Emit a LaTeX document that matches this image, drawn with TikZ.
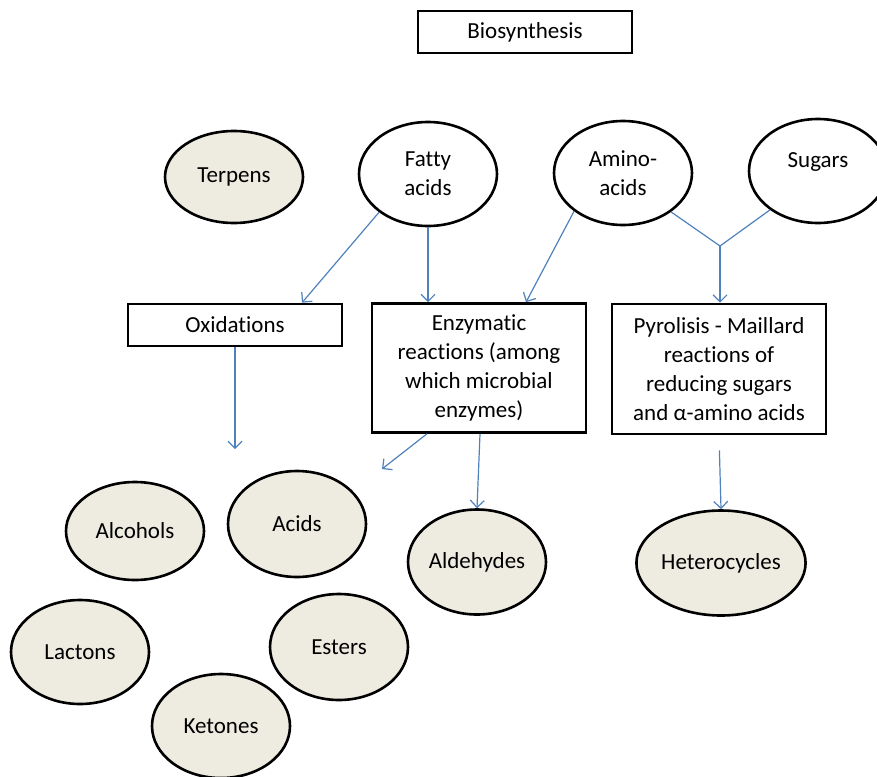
\documentclass[tikz,border=0pt]{standalone}
\usepackage{fontspec}
\setmainfont{Carlito}[RawFeature={-liga;-clig;-calt;-rlig}]
\usepackage{tikz}
\usetikzlibrary{shapes.geometric,arrows.meta}
\definecolor{flowblue}{HTML}{4F81BD}
\definecolor{paper}{HTML}{EEECE1}
\tikzset{
  source/.style={ellipse, draw, line width=2.6pt, fill=white, inner sep=0pt, align=center, minimum width=138pt, minimum height=104pt},
  product/.style={source, fill=paper},
  stagebox/.style={draw, line width=2.6pt, align=center, inner sep=0pt, minimum width=214pt},
  flow/.style={draw=flowblue, line width=1.2pt, -{Straight Barb[length=7pt,width=14pt,line width=1.2pt]}}
}
\begin{document}
\begin{tikzpicture}[x=1pt,y=-1pt,font=\fontsize{23}{28.8}\selectfont]
\useasboundingbox (0,0) rectangle (877,776);
\clip (0,0) rectangle (877,776);
\node[stagebox, minimum height=42pt] (bio) at (525,32) {Biosynthesis};
\node[product, minimum height=92pt] (terpens) at (234,177) {Terpens};
\node[source] (fatty) at (428,174) {Fatty\\acids};
\node[source] (amino) at (623,173) {Amino-\\acids};
\node[source] (sugars) at (818,171) {\raisebox{21pt}{Sugars}};
\node[stagebox, minimum height=42pt] (oxid) at (235,325) {Oxidations};
\node[stagebox, minimum height=129pt] (enz) at (479,368) {Enzymatic\\reactions (among\\which microbial\\enzymes)};
\node[stagebox, minimum height=130pt] (pyro) at (719,369) {Pyrolisis - Maillard\\reactions of\\reducing sugars\\and α-amino acids};
\node[product, minimum height=98pt] (alcohols) at (135,531) {Alcohols};
\node[product, minimum height=106pt] (acids) at (297,524) {Acids};
\node[product, minimum height=105pt] (aldehydes) at (477,562) {Aldehydes};
\node[product, minimum width=166pt, minimum height=105pt] (hetero) at (721,563) {Heterocycles};
\node[product] (lactons) at (80,652) {Lactons};
\node[product, minimum height=106pt] (esters) at (339,647) {Esters};
\node[product] (ketones) at (221,726) {Ketones};
\coordinate (join) at (720,246);
\coordinate (oxidend) at (235,449);
\coordinate (enzend) at (382,469);
\draw[flow] (fatty.218) -- ([xshift=67pt]oxid.north);
\draw[flow] (fatty.south) -- (fatty.south |- enz.north);
\draw[flow] (amino.218) -- ([xshift=47pt]enz.north);
\draw[draw=flowblue, line width=1.2pt] (amino.321) -- (join) -- (sugars.219);
\draw[flow] (join) -- (join |- pyro.north);
\draw[flow] (oxid.south) -- (oxidend);
\draw[flow] ([xshift=-52pt]enz.south) -- (enzend);
\draw[flow] ([xshift=1pt]enz.south) -- (aldehydes.north);
\draw[flow, shorten <=15pt] (pyro.south) -- (hetero.north);
\end{tikzpicture}
\end{document}
